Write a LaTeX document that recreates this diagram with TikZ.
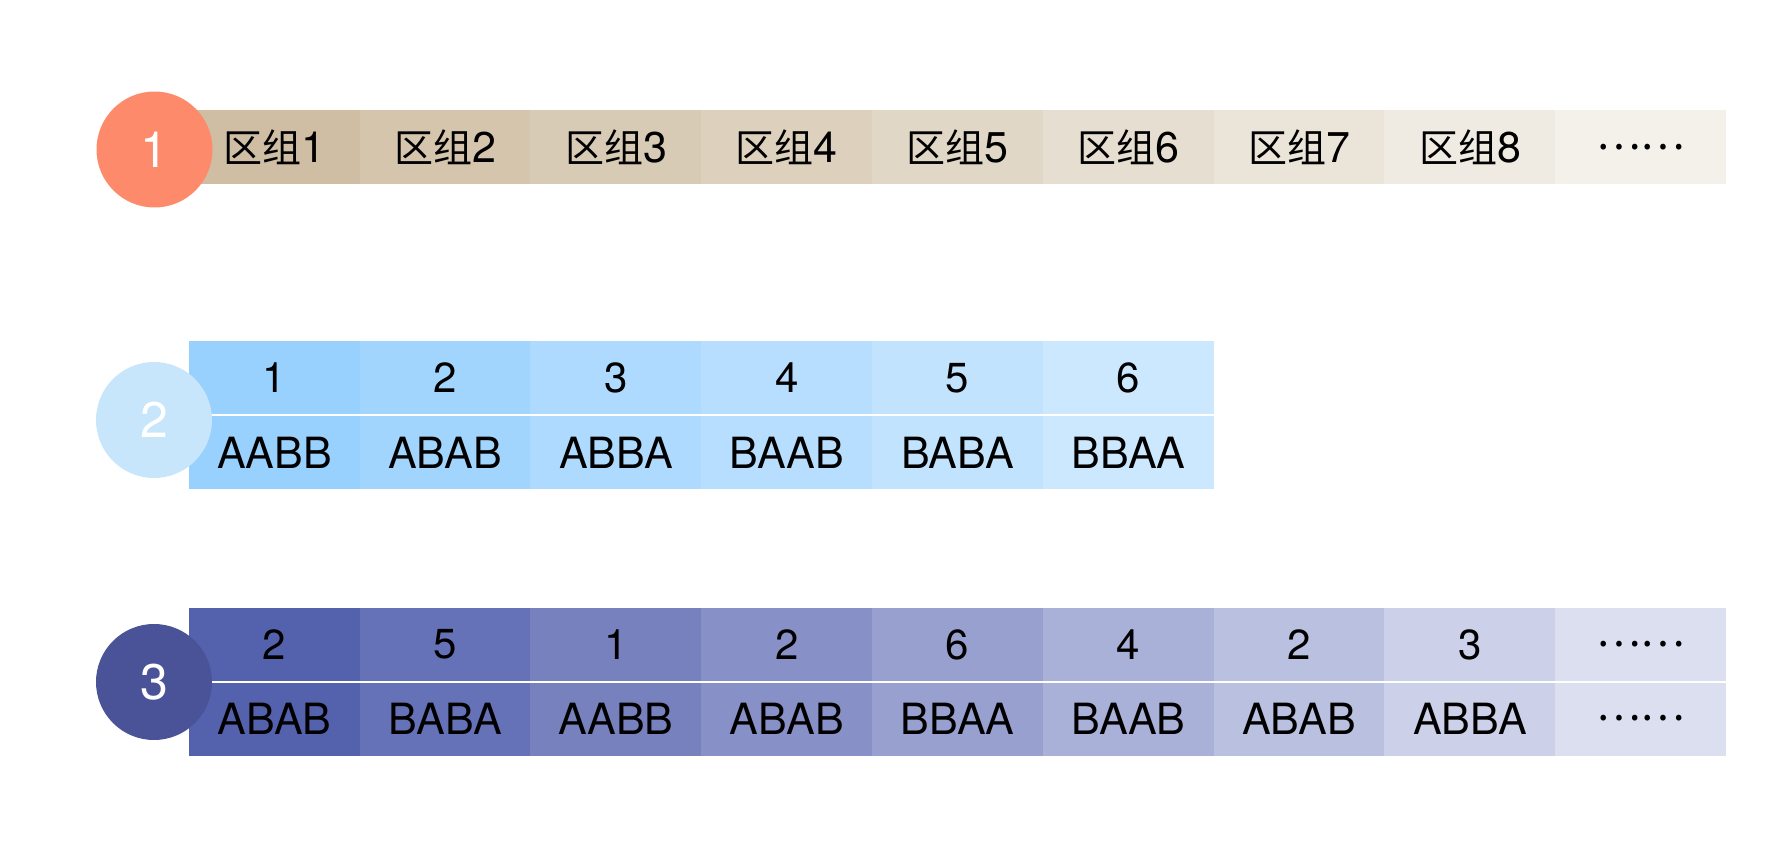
\documentclass[tikz,border=0pt]{standalone}
\usepackage{fontspec}
\setmainfont{TeX Gyre Heros}
\newfontfamily\cjk{Noto Sans CJK SC}
\usetikzlibrary{calc}
\definecolor{tanA}{RGB}{207,190,163}
\definecolor{tanZ}{RGB}{244,241,235}
\definecolor{skyA}{RGB}{152,208,254}
\definecolor{skyZ}{RGB}{204,232,254}
\definecolor{indA}{RGB}{84,98,174}
\definecolor{indZ}{RGB}{220,223,240}
\definecolor{coral}{RGB}{253,138,107}
\definecolor{pale}{RGB}{200,230,251}
\definecolor{navy}{RGB}{74,82,152}
\tikzstyle{cell}=[rectangle,inner sep=0pt,minimum width=85.6pt,minimum height=37pt]
\tikzstyle{badge}=[circle,inner sep=0pt,minimum size=58pt,text=white,font=\fontsize{25}{25}\selectfont]
\tikzstyle{zutxt}=[font=\fontsize{21.5}{22}\selectfont]
\tikzstyle{numtxt}=[font=\fontsize{21}{21}\selectfont]
\tikzstyle{seqtxt}=[font=\fontsize{21.5}{22}\selectfont]
\tikzstyle{dots}=[font=\cjk\fontsize{21}{21}\selectfont]
\tikzstyle{divider}=[draw,white,line width=1pt]

\begin{document}
\begin{tikzpicture}[x=0.5pt,y=-0.5pt]
    \useasboundingbox (0,0) rectangle (1785,861);
    % First row: the blocks
    \foreach \i [evaluate=\i as \pct using int(100-12.5*(\i-1))] in {1,...,8}
        \node[cell,zutxt,fill=tanA!\pct!tanZ] (zu\i) at (103.6+170.8*\i,147.5) {{\cjk\fontsize{19.5}{20}\selectfont 区组}\i};
    \node[cell,dots,fill=tanZ] (zu9) at (103.6+170.8*9,147.5) {……};

    % Second row: the six orders
    \foreach \i/\txt [evaluate=\i as \pct using int(100-20*(\i-1))] in {1/AABB,2/ABAB,3/ABBA,4/BAAB,5/BABA,6/BBAA} {
        \node[cell,numtxt,fill=skyA!\pct!skyZ] (num\i) at (103.6+170.8*\i,378) {\i};
        \node[cell,seqtxt,fill=skyA!\pct!skyZ] (seq\i) at (103.6+170.8*\i,452.5) {\txt};
    }
    \path[divider] (num1.south west) -- (num6.south east);

    % Third row: random draws
    \foreach \i/\n/\txt [evaluate=\i as \pct using int(100-12.5*(\i-1))] in {1/2/ABAB,2/5/BABA,3/1/AABB,4/2/ABAB,5/6/BBAA,6/4/BAAB,7/2/ABAB,8/3/ABBA} {
        \node[cell,numtxt,fill=indA!\pct!indZ] (rnum\i) at (103.6+170.8*\i,644.5) {\n};
        \node[cell,seqtxt,fill=indA!\pct!indZ] (rseq\i) at (103.6+170.8*\i,718.5) {\txt};
    }
    \node[cell,dots,fill=indZ] (rnum9) at (103.6+170.8*9,644.5) {……};
    \node[cell,dots,fill=indZ] (rseq9) at (103.6+170.8*9,718.5) {……};
    \path[divider] (rnum1.south west) -- (rnum9.south east);

    % Then the numbered circles on top
    \node[badge,fill=coral] (one) at (154.5,149.5) {1};
    \node[badge,fill=pale] (two) at (154,420) {2};
    \node[badge,fill=navy] (three) at (154,682) {3};
\end{tikzpicture}
\end{document}
